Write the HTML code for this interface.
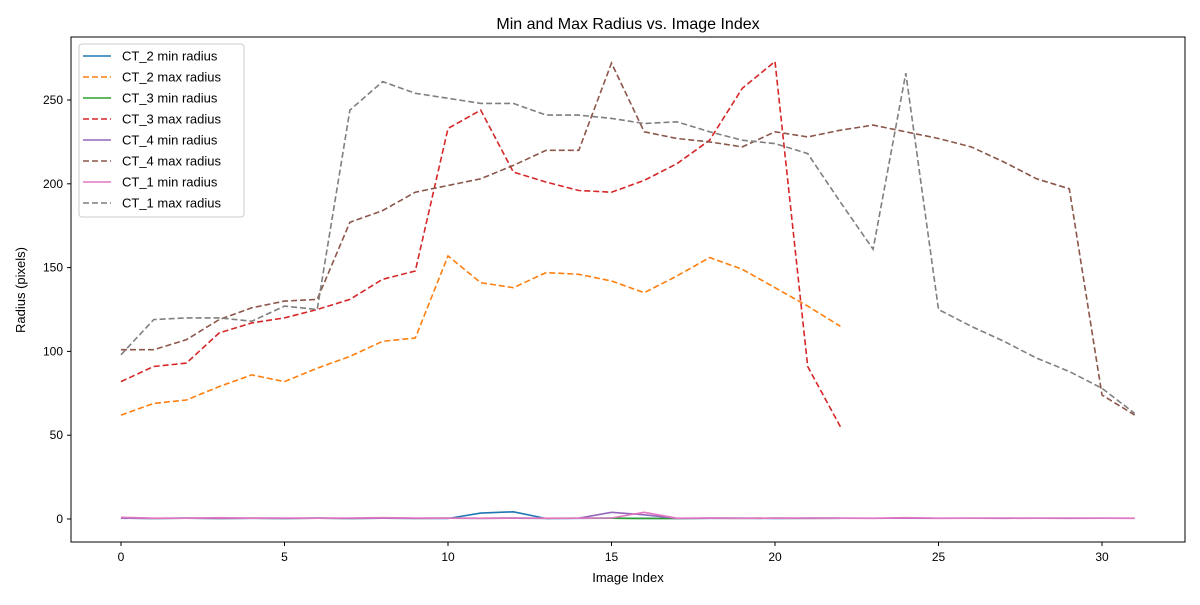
<!DOCTYPE html>
<html><head><meta charset="utf-8"><style>
body{margin:0;background:#fff;}
svg text{font-family:"Liberation Sans","DejaVu Sans",sans-serif;}
</style></head><body>
<svg id="chart" width="1200" height="600" xmlns="http://www.w3.org/2000/svg">
<rect width="1200" height="600" fill="#fff"/>
<text x="628" y="29" font-size="16" text-anchor="middle">Min and Max Radius vs. Image Index</text>
<text x="628" y="582" font-size="13" text-anchor="middle">Image Index</text>
<text transform="translate(25,290) rotate(-90)" font-size="13" text-anchor="middle">Radius (pixels)</text>
<g id="ticks"></g>
<g id="series"></g>
<rect x="71" y="37" width="1114" height="505" fill="none" stroke="#000" stroke-width="1"/>
<g id="legend"></g>
</svg>
<script>
const xTicks=[0,5,10,15,20,25,30];
const yTicks=[0,50,100,150,200,250];
const ct2Min=[0.5,0.3,0.5,0.3,0.4,0.3,0.5,0.3,0.5,0.4,0.3,3.5,4.3,0.3,0.4,0.5,0.4,0.3,0.4,0.5,0.3,0.5,0.4];
const ct2Max=[62,69,71,79,86,82,90,97,106,108,157,141,138,147,146,142,135,145,156,149,138,127,115];
const ct3Min=[0.5,0.4,0.5,0.4,0.5,0.4,0.5,0.4,0.5,0.4,0.5,0.4,0.5,0.4,0.5,0.5,0.3,0.3,0.5,0.4,0.5,0.4,0.5];
const ct3Max=[82,91,93,111,117,120,125,131,143,148,233,244,207,201,196,195,202,212,226,257,273,91,55];
const ct4Min=[0.5,0.4,0.5,0.4,0.5,0.4,0.5,0.4,0.5,0.4,0.5,0.4,0.5,0.4,0.5,4,2.5,0.4,0.5,0.4,0.5,0.4,0.5,0.4,0.5,0.4,0.5,0.4,0.5,0.4,0.5,0.4];
const ct4Max=[101,101,107,119,126,130,131,177,184,195,199,203,211,220,220,272,231,227,225,222,231,228,232,235,231,227,222,213,203,197,74,62];
const ct1Min=[1,0.5,0.5,0.8,0.5,0.6,0.5,0.6,0.8,0.6,0.5,0.5,0.6,0.5,0.5,0.6,4,0.5,0.6,0.5,0.5,0.6,0.5,0.5,0.8,0.5,0.5,0.6,0.5,0.6,0.5,0.5];
const ct1Max=[98,119,120,120,118,127,125,244,261,254,251,248,248,241,241,239,236,237,231,226,224,218,189,161,266,125,115,106,96,88,78,63];
const seriesNames=["CT_2 min radius","CT_2 max radius","CT_3 min radius","CT_3 max radius","CT_4 min radius","CT_4 max radius","CT_1 min radius","CT_1 max radius"];
const seriesData=[ct2Min,ct2Max,ct3Min,ct3Max,ct4Min,ct4Max,ct1Min,ct1Max];
const colors=["#1f77b4","#ff7f0e","#2ca02c","#d62728","#9467bd","#8c564b","#e377c2","#7f7f7f"];
const dashed=[false,true,false,true,false,true,false,true];
const NS="http://www.w3.org/2000/svg";
function xs(v){return 121+v*32.7;}
function ys(v){return 519-v*1.676;}
function mk(tag,attrs,parent){const e=document.createElementNS(NS,tag);for(const k in attrs)e.setAttribute(k,attrs[k]);parent.appendChild(e);return e;}
const tg=document.getElementById('ticks');
xTicks.forEach(t=>{
  const l=mk('line',{x1:xs(t),x2:xs(t),y1:542,y2:546,stroke:'#000'},tg);
  
  
  const tx=mk('text',{x:xs(t),y:561,'font-size':12,'text-anchor':'middle'},tg);tx.textContent=t;
  
  
});
yTicks.forEach(t=>{
  const l=mk('line',{x1:67,x2:71,y1:ys(t),y2:ys(t),stroke:'#000'},tg);
  
  
  const tx=mk('text',{x:63,y:ys(t)+4,'font-size':12,'text-anchor':'end'},tg);tx.textContent=t;
  
  
});
const sg=document.getElementById('series');
seriesData.forEach((d,i)=>{
  const pts=d.map((v,j)=>xs(j).toFixed(1)+','+ys(v).toFixed(1)).join(' ');
  const p=mk('polyline',{points:pts,fill:'none',stroke:colors[i],'stroke-width':1.6},sg);
  if(dashed[i])p.setAttribute('stroke-dasharray','6,3');
  
  
});
const lg=document.getElementById('legend');
const box=mk('rect',{x:79,y:44,width:165,height:173,rx:3,fill:'#fff','fill-opacity':0.8,stroke:'#ccc'},lg);


seriesNames.forEach((n,i)=>{
  const y=56+i*21;
  const l=mk('line',{x1:83,x2:111,y1:y,y2:y,stroke:colors[i],'stroke-width':1.6},lg);
  if(dashed[i])l.setAttribute('stroke-dasharray','6,3');
  
  
  const t=mk('text',{x:122,y:y+4.5,'font-size':13},lg);t.textContent=n;
  
  
});
</script>
</body></html>
